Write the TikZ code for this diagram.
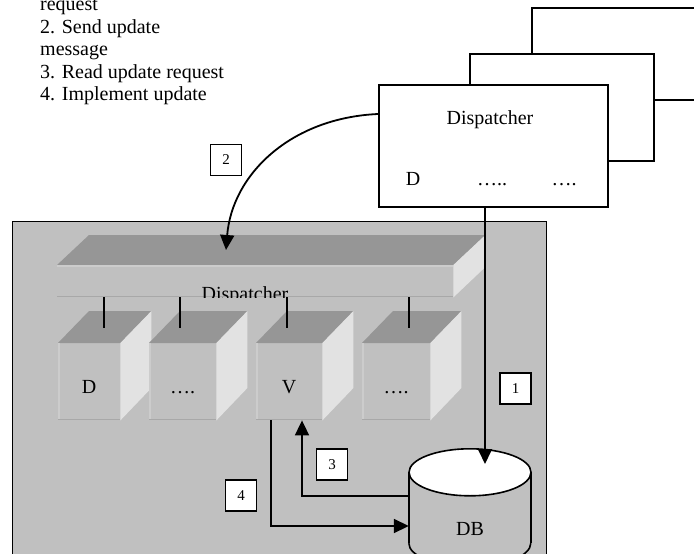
\documentclass[tikz,border=0pt]{standalone}
\usepackage{fontspec}
\setmainfont{Liberation Serif}
\usetikzlibrary{arrows.meta}
\definecolor{silver}{HTML}{C0C0C0}
\definecolor{topgray}{HTML}{969696}
\definecolor{sidegray}{HTML}{E2E2E2}
\definecolor{lightedge}{HTML}{CCCCCC}
\definecolor{darkedge}{HTML}{A8A8A8}
\begin{document}
\begin{tikzpicture}[x=1pt,y=-1pt,
  txt/.style={font=\fontsize{20}{24}\selectfont,inner sep=0pt},
  conn/.style={line width=1.8pt},
  arr/.style={conn,-{Triangle[length=15pt,width=14pt]}},
  tick/.style={line width=1.8pt},
  numbox/.style={draw,line width=1.6pt,fill=white,minimum width=31pt,minimum height=31pt,inner sep=0pt,font=\fontsize{15}{18}\selectfont},
  card/.style={draw,line width=1.8pt,fill=white,inner sep=0pt,anchor=north west},
  face/.style={fill=silver,draw=none,inner sep=0pt,anchor=north west}
]
\clip (0,0) rectangle (694,554);
\fill[white] (0,0) rectangle (694,554);

% notes
\node[txt,anchor=base west] (n0) at (40,10.5) {request};
\node[txt,anchor=base west] (n1) at (40,33) {2. Send update};
\node[txt,anchor=base west] (n2) at (40,55.5) {message};
\node[txt,anchor=base west] (n3) at (40,78) {3. Read update request};
\node[txt,anchor=base west] (n4) at (40,100.5) {4. Implement update};

% stacked cards
\node[card,minimum width=240pt,minimum height=92pt] (card3) at (531,7) {};
\node[card,minimum width=184pt,minimum height=107pt] (card2) at (469,53) {};
\node[card,minimum width=229pt,minimum height=122pt] (disp) at (378,84) {};
\node[txt,anchor=base] (dt) at (490,124) {Dispatcher};
\node[txt,anchor=base] (dd) at (413,185) {D};
\node[txt,anchor=base] (de1) at (492,185) {…..};
\node[txt,anchor=base] (de2) at (564,185) {….};

% system box
\node[draw,line width=1.3pt,fill=silver,anchor=north west,minimum width=534pt,minimum height=400pt,inner sep=0pt] (sys) at (12,221) {};

% dispatcher bar
\node[face,minimum width=396pt,minimum height=32pt] (bar) at (57,265) {};
\fill[topgray] (bar.north west) -- ++(32,-30) -- ([shift={(32,-30)}]bar.north east) -- (bar.north east) -- cycle;
\fill[sidegray] (bar.north east) -- ++(32,-30) -- ++(0,32) -- (bar.south east) -- cycle;
\draw[lightedge,line width=1.5pt] ([shift={(0,0.75)}]bar.north west) -- ([shift={(0,0.75)}]bar.north east);
\draw[darkedge,line width=1.2pt] ([shift={(0,-0.6)}]bar.south west) -- ([shift={(0,-0.6)}]bar.south east);
\begin{scope}
  \clip (bar.north west) rectangle (bar.south east);
  \node[txt,anchor=base] (bt) at (245,300) {Dispatcher};
\end{scope}

% cubes
\foreach \n/\x/\w/\t in {c1/58/62/D, c2/149/67/…., c3/256/66/V, c4/362/68/….} {
  \node[face,minimum width=\w pt,minimum height=77pt] (\n) at (\x,343) {};
  \fill[topgray] (\n.north west) -- ++(31,-32) -- ([shift={(31,-32)}]\n.north east) -- (\n.north east) -- cycle;
  \fill[sidegray] (\n.north east) -- ++(31,-32) -- ++(0,77) -- (\n.south east) -- cycle;
  \draw[lightedge,line width=1.5pt] ([shift={(0.75,0)}]\n.north west) -- ([shift={(0.75,0)}]\n.south west);
  \draw[darkedge,line width=1.2pt] ([shift={(0,-0.6)}]\n.south west) -- ([shift={(0,-0.6)}]\n.south east);
  \node[txt,anchor=base] at ([shift={(0,11.5)}]\n.center) {\t};
}

% bar to cubes
\coordinate (k1) at (104,328);
\coordinate (k2) at (180,328);
\coordinate (k3) at (287,328);
\coordinate (k4) at (409,328);
\foreach \k in {k1,k2,k3,k4} { \draw[tick] (\k |- bar.south) -- (\k); }

% database cylinder
\node[inner sep=0pt,minimum width=122pt,minimum height=70.5pt] (db) at (470,507.75) {};
\draw[line width=1.6pt] (db.north west) -- (db.south west) (db.north east) -- (db.south east);
\draw[line width=1.6pt] (db.south west) arc[start angle=180,end angle=0,x radius=61,y radius=23.5];
\draw[line width=1.6pt,fill=white] (db.north) ellipse[x radius=61,y radius=23.5];
\node[txt,anchor=base] (dbt) at (470,535) {DB};

% connectors
\coordinate (a1) at (485,464);
\draw[arr] (a1 |- disp.south) -- (a1);
\coordinate (s2) at (378,114);
\coordinate (e2) at (226,250);
\draw[arr] (s2) .. controls (290,118) and (232,175) .. (e2);
\coordinate (p3) at (302,496);
\draw[arr] (p3 -| db.west) -- (p3) -- (p3 |- c3.south);
\coordinate (p4) at (271,526);
\draw[arr] (p4 |- c3.south) -- (p4) -- (p4 -| db.west);

% step labels
\node[numbox] (b1) at (515.5,388.5) {1};
\node[numbox] (b2) at (226,160) {2};
\node[numbox] (b3) at (332,464.5) {3};
\node[numbox] (b4) at (241,495.5) {4};
\end{tikzpicture}
\end{document}
